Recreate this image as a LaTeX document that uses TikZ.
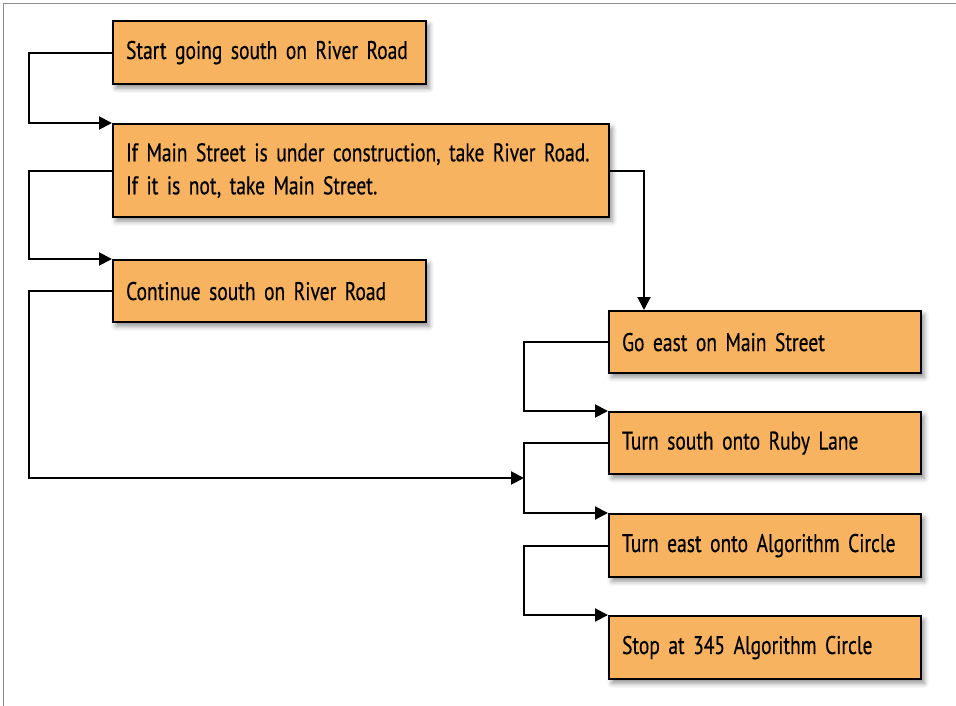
\documentclass[tikz,border=0pt]{standalone}
\usepackage{fontspec}
\setmainfont[FakeStretch=0.765, WordSpace=0.72, FakeBold=0.4]{PT Sans}
\usetikzlibrary{arrows.meta,shadows.blur}
\definecolor{boxfill}{HTML}{F7B35F}
\definecolor{framegray}{HTML}{8C8C8C}
\tikzset{
  stepbox/.style={draw=black, line width=2.2pt, fill=boxfill, anchor=north west,
    inner xsep=13pt, inner ysep=0pt, align=left,
    font=\fontsize{25.5}{33}\selectfont,
    blur shadow={shadow xshift=3pt, shadow yshift=-4pt, shadow blur radius=5pt, shadow opacity=45}},
  conn/.style={line width=2pt, -{Triangle[length=13pt,width=13pt]}}
}
\begin{document}
\begin{tikzpicture}[x=1pt,y=-1pt]
  \useasboundingbox (0,0) rectangle (956,706);
  % thin page frame
  \draw[framegray, line width=1.5pt] (3.5,706) -- (3.5,3.5) -- (956,3.5);

  % route steps (each line kept whole with \mbox)
  \node[stepbox, minimum width=313pt, minimum height=63pt, text width=287pt] (b1) at (112,20)
    {\mbox{Start going south on River Road}};
  \node[stepbox, minimum width=496pt, minimum height=93pt, text width=470pt] (b2) at (112,123)
    {\mbox{If Main Street is under construction, take River Road.}\\\mbox{If it is not, take Main Street.}};
  \node[stepbox, minimum width=313pt, minimum height=62pt, text width=287pt] (b3) at (112,259)
    {\mbox{Continue south on River Road}};
  \node[stepbox, minimum width=312pt, minimum height=62pt, text width=286pt] (b4) at (608,310)
    {\mbox{Go east on Main Street}};
  \node[stepbox, minimum width=312pt, minimum height=62pt, text width=286pt] (b5) at (608,411)
    {\mbox{Turn south onto Ruby Lane}};
  \node[stepbox, minimum width=312pt, minimum height=63pt, text width=286pt] (b6) at (608,513)
    {\mbox{Turn east onto Algorithm Circle}};
  \node[stepbox, minimum width=312pt, minimum height=63pt, text width=286pt] (b7) at (608,615)
    {\mbox{Stop at 345 Algorithm Circle}};

  % routing rails
  \coordinate (lx) at (29,0);
  \coordinate (rx) at (524,0);
  \coordinate (merge) at (524,478);

  % connectors
  \draw[conn] (b1.west) -- (b1.west -| lx) |- (b2.north west);
  \draw[conn] (b2.west) -- (b2.west -| lx) |- (b3.north west);
  \draw[conn] (b3.west) -- (b3.west -| lx) |- (merge);
  \draw[conn] (b2.east) -| ([xshift=36pt]b4.north west);
  \draw[conn] (b4.west) -- (b4.west -| rx) |- (b5.north west);
  \draw[conn] (b5.west) -- (b5.west -| rx) |- (b6.north west);
  \draw[conn] (b6.west) -- (b6.west -| rx) |- (b7.north west);
\end{tikzpicture}
\end{document}
